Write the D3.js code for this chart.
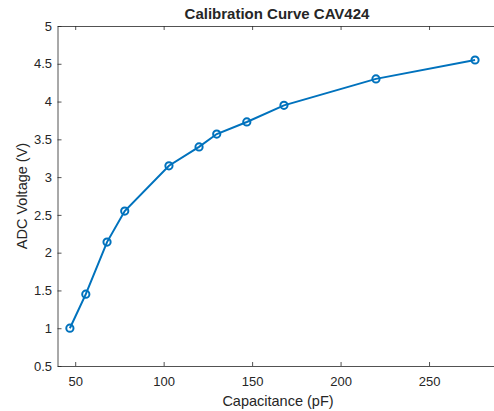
<!DOCTYPE html>
<html>
<head>
<meta charset="utf-8">
<script src="https://cdn.jsdelivr.net/npm/d3@7"></script>
<style>
  body { margin: 0; background: #fff; }
  text { font-family: "Liberation Sans", Arial, sans-serif; fill: #262626; }
</style>
</head>
<body>
<svg class="chart" width="494" height="411"></svg>
<script>
// data
var capacitance = [47, 56, 68, 78, 103, 120, 130, 147, 168, 220, 276];
var voltage = [1.0, 1.45, 2.14, 2.55, 3.15, 3.40, 3.57, 3.73, 3.95, 4.30, 4.55];
var xTicks = [50, 100, 150, 200, 250];
var yTicks = [0.5, 1, 1.5, 2, 2.5, 3, 3.5, 4, 4.5, 5];

var margin = {top: 26, left: 57.5},
    width = 460,   // right side runs past the window, as in the original
    height = 340;

var svg = d3.select(".chart");
var g = svg.append("g").attr("transform", "translate(" + margin.left + "," + margin.top + ")");

var x = d3.scaleLinear().domain([40, 300]).range([0, width]);
var y = d3.scaleLinear().domain([0.5, 5]).range([height, 0]);

// axes (ticks point inwards, box on)
var xAxis = g.append("g").attr("transform", "translate(0," + height + ")")
  .call(d3.axisBottom(x).tickValues(xTicks).tickSizeInner(-4).tickSizeOuter(0).tickPadding(11));
var xTop = g.append("g")
  .call(d3.axisTop(x).tickValues(xTicks).tickSizeInner(-4).tickSizeOuter(0).tickFormat(""));
var yAxis = g.append("g")
  .call(d3.axisLeft(y).tickValues(yTicks).tickSizeInner(-4).tickSizeOuter(0).tickPadding(5.5)
    .tickFormat(function(d) { return d3.format("~g")(d); }));

[xAxis, xTop, yAxis].forEach(function(a) {
  a.selectAll(".domain, line").attr("stroke", "#262626").attr("stroke-width", 0.8);
  a.selectAll("text").attr("font-size", 13).attr("fill", "#262626")
    .attr("font-family", "Liberation Sans, Arial, sans-serif");
});

var pts = capacitance.map(function(c, i) { return [c, voltage[i]]; });

g.append("path")
  .datum(pts)
  .attr("fill", "none")
  .attr("stroke", "#0072BD")
  .attr("stroke-width", 2)
  .attr("d", d3.line().x(function(d) { return x(d[0]); }).y(function(d) { return y(d[1]); }));

g.selectAll("circle.pt").data(pts).enter().append("circle")
  .attr("class", "pt")
  .attr("cx", function(d) { return x(d[0]); })
  .attr("cy", function(d) { return y(d[1]); })
  .attr("r", 3.6)
  .attr("fill", "none")
  .attr("stroke", "#0072BD")
  .attr("stroke-width", 2);

// labels
svg.append("text").attr("x", 277).attr("y", 18.5).attr("text-anchor", "middle")
  .attr("font-size", 15).attr("font-weight", "bold").attr("fill", "#000")
  .text("Calibration Curve CAV424");
svg.append("text").attr("x", 278).attr("y", 406).attr("text-anchor", "middle")
  .attr("font-size", 14.5).text("Capacitance (pF)");
svg.append("text").attr("transform", "translate(26.5," + (margin.top + height / 2) + ") rotate(-90)")
  .attr("text-anchor", "middle").attr("font-size", 14.5).text("ADC Voltage (V)");
</script>
</body>
</html>
